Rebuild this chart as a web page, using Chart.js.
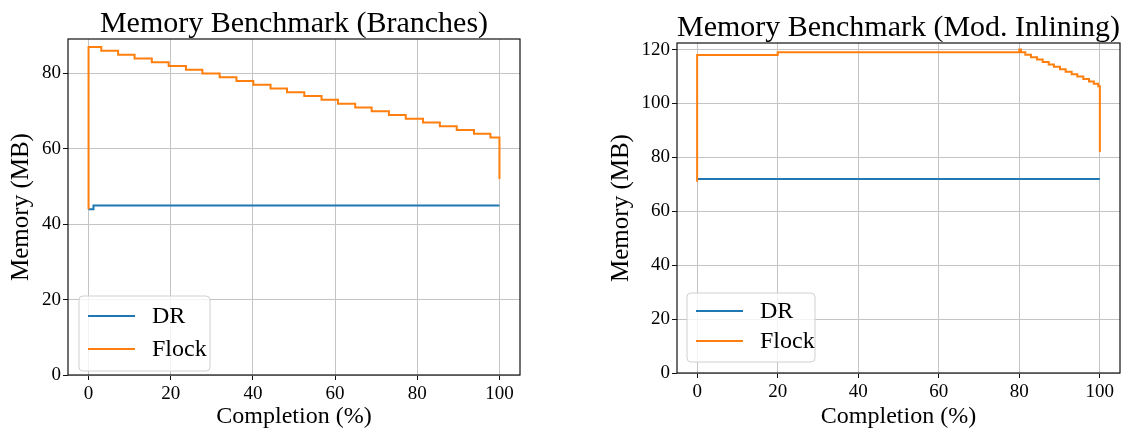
<!DOCTYPE html>
<html>
<head>
<meta charset="utf-8">
<script src="https://cdn.jsdelivr.net/npm/chart.js@4.4.1/dist/chart.umd.min.js"></script>
<style>
  body { margin: 0; background: #fff; }
  #wrap { position: relative; width: 1124px; height: 432px; }
  canvas { position: absolute; top: 0; }
</style>
</head>
<body>
<div id="wrap">
  <canvas id="chart1" width="560" height="432" style="left:0px"></canvas>
  <canvas id="chart2" width="524" height="432" style="left:600px"></canvas>
</div>
<script>
// Memory Benchmark (Branches)
var branchDrX = [0, 1.2, 100];
var branchDrY = [44, 45, 45];
var branchFlockX = [0, 0, 3.1, 7.2, 11.2, 15.4, 19.5, 23.7, 27.7, 31.9, 36.0, 40.1, 44.3, 48.3,
                    52.5, 56.7, 60.7, 64.9, 68.9, 73.1, 77.2, 81.4, 85.5, 89.6, 93.8, 97.8, 100, 100];
var branchFlockY = [44, 87, 86, 85, 84, 83, 82, 81, 80, 79, 78, 77, 76, 75,
                    74, 73, 72, 71, 70, 69, 68, 67, 66, 65, 64, 63, 63, 52];

// Memory Benchmark (Mod. Inlining)
var inlDrX = [0, 100];
var inlDrY = [72, 72];
var inlFlockX = [0, 0, 20, 80, 80.4, 81.5, 82.9, 84.4, 85.8, 87.3, 88.6, 90.1, 91.5, 93.0,
                 94.4, 95.9, 97.3, 98.5, 99.6, 100];
var inlFlockY = [71, 118, 119, 120, 119, 118.1, 117.2, 116.3, 115.4, 114.5, 113.6, 112.7, 111.8, 110.9,
                 110.0, 109.1, 108.2, 107.3, 106.4, 82];

var xTicks = [0, 20, 40, 60, 80, 100];
var branchYTicks = [0, 20, 40, 60, 80];
var inlYTicks = [0, 20, 40, 60, 80, 100, 120];

var FONT = "'Liberation Serif', 'Times New Roman', serif";
var BLUE = '#1f77b4', ORANGE = '#ff7f0e';

function pts(xs, ys) {
    return xs.map(function (x, i) { return { x: x, y: ys[i] }; });
}

// box around the plot, like matplotlib spines
var framePlugin = {
    id: 'frame',
    afterDatasetsDraw: function (chart) {
        var a = chart.chartArea, ctx = chart.ctx;
        ctx.save();
        ctx.strokeStyle = '#111';
        ctx.lineWidth = 1.2;
        ctx.strokeRect(a.left, a.top, a.right - a.left, a.bottom - a.top);
        ctx.restore();
    }
};

// legend inside the plot, lower left
var boxLegend = {
    id: 'boxLegend',
    afterDraw: function (chart, args, opts) {
        var a = chart.chartArea, ctx = chart.ctx;
        var w = opts.w, h = opts.h;
        var x = a.left + opts.dx, y = a.bottom - opts.dy - h;
        ctx.save();
        ctx.beginPath();
        ctx.roundRect(x, y, w, h, 4);
        ctx.fillStyle = 'rgba(255,255,255,0.8)';
        ctx.fill();
        ctx.strokeStyle = '#d0d0d0';
        ctx.lineWidth = 1;
        ctx.stroke();
        ctx.font = '24px ' + FONT;
        ctx.textBaseline = 'middle';
        chart.data.datasets.forEach(function (ds, i) {
            var ry = y + opts.rows[i];
            ctx.strokeStyle = ds.borderColor;
            ctx.lineWidth = 2;
            ctx.beginPath();
            ctx.moveTo(x + 9, ry);
            ctx.lineTo(x + 56, ry);
            ctx.stroke();
            ctx.fillStyle = '#000';
            ctx.fillText(ds.label, x + 73, ry + 1);
        });
        ctx.restore();
    }
};

function keepTicks(list) {
    return function (scale) {
        scale.ticks = list.map(function (v) { return { value: v }; });
    };
}

function makeChart(id, title, drX, drY, flX, flY, yMax, yTicks, g) {
    return new Chart(document.getElementById(id).getContext('2d'), {
        type: 'line',
        data: {
            datasets: [{
                label: 'DR',
                data: pts(drX, drY),
                borderColor: BLUE,
                borderWidth: 2,
                pointRadius: 0,
                stepped: true,
                order: 1
            }, {
                label: 'Flock',
                data: pts(flX, flY),
                borderColor: ORANGE,
                borderWidth: 2,
                pointRadius: 0,
                stepped: true,
                order: 0
            }]
        },
        options: {
            responsive: false,
            animation: false,
            devicePixelRatio: 1,
            layout: { padding: { left: 0, right: g.padRight, top: 0, bottom: 0 } },
            plugins: {
                legend: { display: false },
                tooltip: { enabled: false },
                title: {
                    display: true,
                    text: title,
                    fullSize: false,
                    color: '#000',
                    font: { family: FONT, size: 30, weight: 'normal', lineHeight: 1 },
                    padding: { top: g.titleTop, bottom: 0 }
                },
                boxLegend: g.legend
            },
            scales: {
                x: {
                    type: 'linear',
                    min: -5,
                    max: 105,
                    afterBuildTicks: keepTicks(xTicks),
                    afterFit: function (s) { s.height = g.xHeight; },
                    border: { display: false },
                    grid: { color: '#c4c4c4', lineWidth: 1, tickColor: '#111', tickLength: 5 },
                    ticks: { color: '#000', padding: 3, maxRotation: 0,
                             font: { family: FONT, size: 19 } },
                    title: { display: true, text: 'Completion (%)', color: '#000',
                             font: { family: FONT, size: 24, lineHeight: 1 },
                             padding: { top: 0, bottom: 3 } }
                },
                y: {
                    min: 0,
                    max: yMax,
                    afterBuildTicks: keepTicks(yTicks),
                    afterFit: function (s) { s.width = g.yWidth; },
                    border: { display: false },
                    grid: { color: '#c4c4c4', lineWidth: 1, tickColor: '#111', tickLength: 5 },
                    ticks: { color: '#000', padding: 2,
                             font: { family: FONT, size: 19 } },
                    title: { display: true, text: 'Memory (MB)', color: '#000',
                             font: { family: FONT, size: 25, lineHeight: 1 },
                             padding: { top: 9, bottom: 0 } }
                }
            }
        },
        plugins: [framePlugin, boxLegend]
    });
}

makeChart('chart1', 'Memory Benchmark (Branches)', branchDrX, branchDrY, branchFlockX, branchFlockY,
    89.15, branchYTicks,
    { padRight: 40, titleTop: 9, xHeight: 57, yWidth: 68,
      legend: { dx: 11, dy: 4, w: 131, h: 75, rows: [20, 53] } });

makeChart('chart2', 'Memory Benchmark (Mod. Inlining)', inlDrX, inlDrY, inlFlockX, inlFlockY,
    122.45, inlYTicks,
    { padRight: 4, titleTop: 13, xHeight: 59, yWidth: 77,
      legend: { dx: 10, dy: 11, w: 128, h: 69, rows: [18, 48] } });
</script>
</body>
</html>
